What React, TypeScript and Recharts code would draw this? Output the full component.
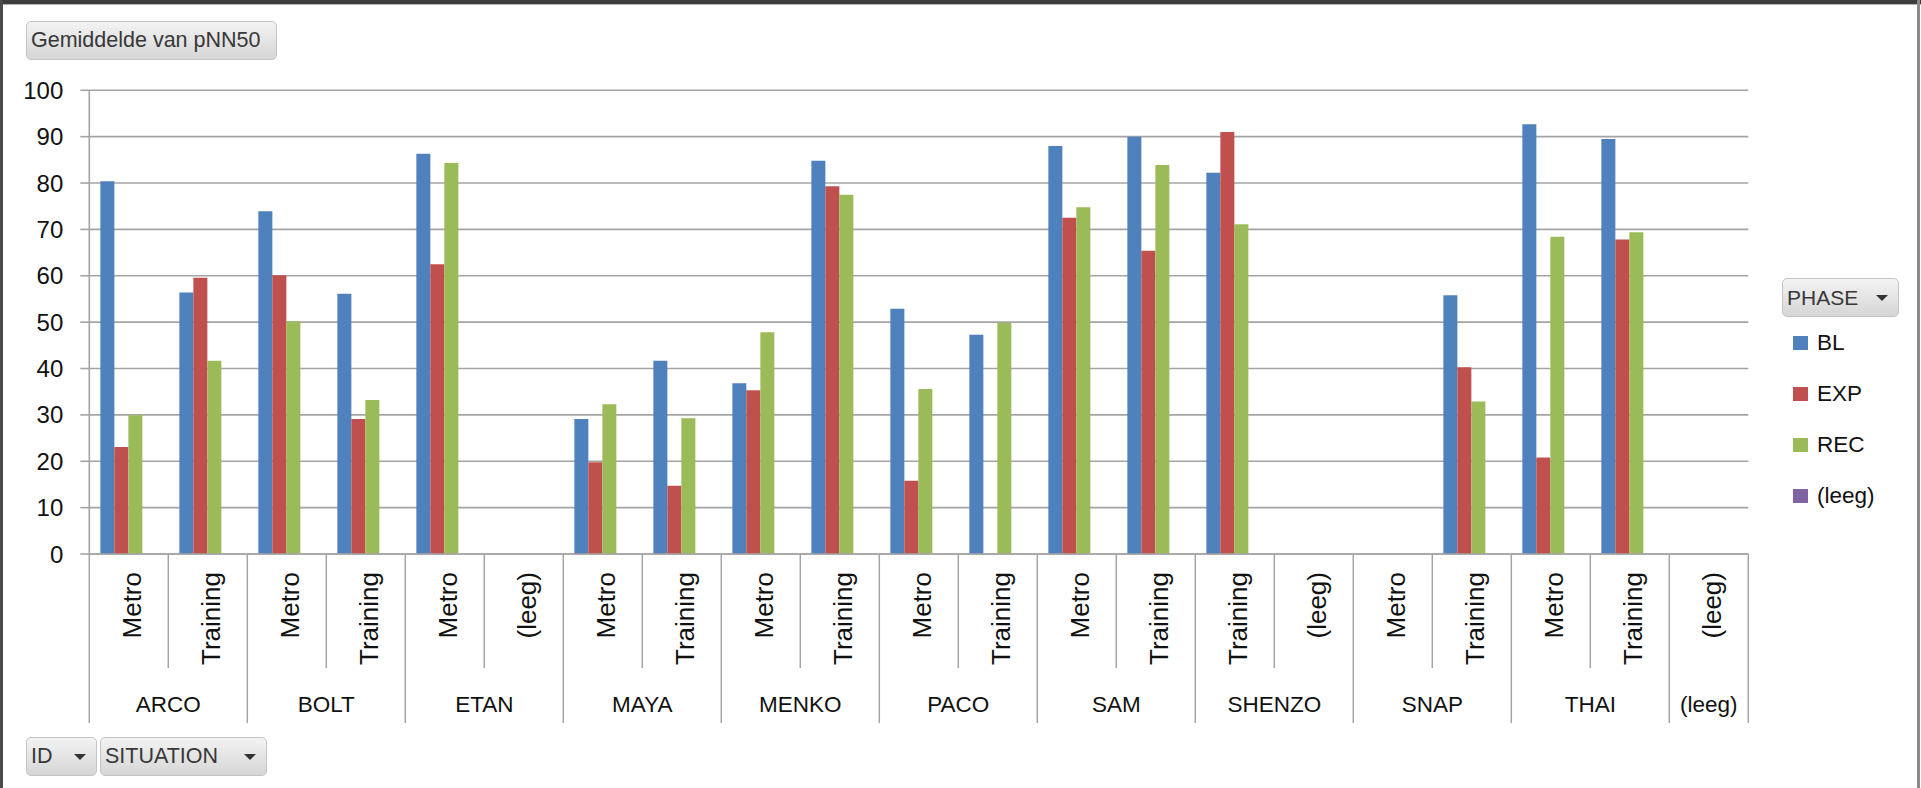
import { Bar, BarChart, CartesianGrid, XAxis, YAxis } from "recharts"

// pivot rows: ID / SITUATION, one value per PHASE
const ids = [
  "ARCO", "ARCO", "BOLT", "BOLT", "ETAN", "ETAN", "MAYA", "MAYA", "MENKO", "MENKO", "PACO",
  "PACO", "SAM", "SAM", "SHENZO", "SHENZO", "SNAP", "SNAP", "THAI", "THAI", "(leeg)",
]
const situations = [
  "Metro", "Training", "Metro", "Training", "Metro", "(leeg)", "Metro", "Training", "Metro", "Training", "Metro",
  "Training", "Metro", "Training", "Training", "(leeg)", "Metro", "Training", "Metro", "Training", "(leeg)",
]
const bl = [80.4, 56.4, 73.9, 56.1, 86.3, null, 29.1, 41.7, 36.8, 84.8, 52.9, 47.3, 88.0, 90.0, 82.2, null, null, 55.8, 92.7, 89.5, null]
const exp = [23.1, 59.6, 60.1, 29.1, 62.5, null, 19.8, 14.7, 35.3, 79.3, 15.8, null, 72.5, 65.4, 91.0, null, null, 40.3, 20.8, 67.8, null]
const rec = [29.9, 41.7, 50.2, 33.2, 84.3, null, 32.3, 29.3, 47.8, 77.5, 35.6, 49.8, 74.8, 83.9, 71.1, null, null, 32.9, 68.4, 69.4, null]
const leeg = ids.map(() => null)
const yTicks = [0, 10, 20, 30, 40, 50, 60, 70, 80, 90, 100]

const phases = [
  { key: "BL", color: "#4F81BD", values: bl },
  { key: "EXP", color: "#C0504D", values: exp },
  { key: "REC", color: "#9BBB59", values: rec },
  { key: "(leeg)", color: "#8064A2", values: leeg },
]

const rows = ids.map((id, i) => {
  const row: Record<string, string | number | null> = { cat: `${id}|${situations[i]}` }
  phases.forEach((p) => (row[p.key] = p.values[i]))
  return row
})

const W = 1921
const H = 788
const PLOT_LEFT = 89.3
const PLOT_RIGHT = 1748.3
const PLOT_TOP = 90.3
const PLOT_BOTTOM = 554
const FONT = '"Liberation Sans", Arial, sans-serif'
const GRID = "#a4a4a4"

function CategoryTick(props: any) {
  const { x, y, payload } = props
  const i: number = payload.index
  const band = (PLOT_RIGHT - PLOT_LEFT) / ids.length
  const x0 = x - band / 2
  const groupStart = i === 0 || ids[i] !== ids[i - 1]
  const last = i === ids.length - 1
  let groupSize = 0
  if (groupStart) {
    while (i + groupSize < ids.length && ids[i + groupSize] === ids[i]) groupSize++
  }
  const lx = x + 12
  const ly = y + 18
  return (
    <g>
      <line x1={x0} y1={y} x2={x0} y2={groupStart ? y + 169 : y + 114} stroke={GRID} strokeWidth={1.5} />
      {last && <line x1={x0 + band} y1={y} x2={x0 + band} y2={y + 169} stroke={GRID} strokeWidth={1.5} />}
      <text
        x={lx}
        y={ly}
        transform={`rotate(-90 ${lx} ${ly})`}
        textAnchor="end"
        fontSize={26}
        fontFamily={FONT}
        fill="#111"
      >
        {situations[i]}
      </text>
      {groupStart && (
        <text x={x0 + (groupSize * band) / 2} y={y + 158} textAnchor="middle" fontSize={22.5} fontFamily={FONT} fill="#111">
          {ids[i]}
        </text>
      )}
    </g>
  )
}

function DropButton({ label, left, top, width, height, fontSize, arrow = true }: any) {
  return (
    <div
      style={{
        position: "absolute",
        left,
        top,
        width,
        height,
        boxSizing: "border-box",
        border: "1px solid #c4c4c4",
        borderRadius: 5,
        background: "linear-gradient(#f3f3f3, #d6d6d6)",
        display: "flex",
        alignItems: "center",
        justifyContent: "space-between",
        padding: "0 10px 0 4px",
        fontFamily: FONT,
        fontSize,
        color: "#383838",
        whiteSpace: "nowrap",
      }}
    >
      <span>{label}</span>
      {arrow && (
        <span
          style={{
            width: 0,
            height: 0,
            borderLeft: "6px solid transparent",
            borderRight: "6px solid transparent",
            borderTop: "6px solid #333",
          }}
        />
      )}
    </div>
  )
}

export default function App() {
  return (
    <div style={{ position: "fixed", left: 0, top: 0, width: W, height: H, background: "#fff", overflow: "hidden" }}>
      <BarChart
        width={W}
        height={H}
        data={rows}
        margin={{ top: PLOT_TOP, right: W - PLOT_RIGHT, bottom: 0, left: 0 }}
        barCategoryGap="14%"
        barGap={0}
      >
        <CartesianGrid vertical={false} stroke={GRID} strokeWidth={1.6} />
        <YAxis
          width={PLOT_LEFT}
          domain={[0, 100]}
          ticks={yTicks}
          interval={0}
          tickSize={9}
          tickMargin={17}
          axisLine={{ stroke: GRID, strokeWidth: 1.6 }}
          tickLine={{ stroke: GRID, strokeWidth: 1.6 }}
          tick={{ fontSize: 24, fontFamily: FONT, fill: "#111" }}
        />
        <XAxis
          dataKey="cat"
          height={H - PLOT_BOTTOM}
          interval={0}
          tickSize={0}
          tickMargin={0}
          tickLine={false}
          axisLine={{ stroke: GRID, strokeWidth: 1.6 }}
          tick={<CategoryTick />}
        />
        {phases.map((p) => (
          <Bar key={p.key} dataKey={p.key} name={p.key} fill={p.color} isAnimationActive={false} />
        ))}
      </BarChart>

      <DropButton label="Gemiddelde van pNN50" left={26} top={21} width={251} height={39} fontSize={21.5} arrow={false} />
      <DropButton label="ID" left={26} top={737} width={71} height={39} fontSize={21.5} />
      <DropButton label="SITUATION" left={100} top={737} width={167} height={39} fontSize={21.5} />

      <div style={{ position: "absolute", left: 1782, top: 278 }}>
        <DropButton label="PHASE" left={0} top={0} width={117} height={39} fontSize={21} />
        {phases.map((p, i) => (
          <div
            key={p.key}
            style={{
              position: "absolute",
              left: 11,
              top: 50 + i * 51,
              height: 30,
              display: "flex",
              alignItems: "center",
              fontFamily: FONT,
              fontSize: 22.5,
              color: "#111",
              whiteSpace: "nowrap",
            }}
          >
            <span style={{ width: 15, height: 14, background: p.color, marginRight: 9 }} />
            {p.key}
          </div>
        ))}
      </div>

      {/* window frame */}
      <div style={{ position: "absolute", left: 0, top: 0, width: W, height: 4, background: "#3c3c3c" }} />
      <div style={{ position: "absolute", left: 0, top: 4, width: W, height: 1, background: "#b5b5b5" }} />
      <div style={{ position: "absolute", left: 0, top: 0, width: 3, height: H, background: "#4a4a4a" }} />
      <div style={{ position: "absolute", left: W - 4, top: 0, width: 3, height: H, background: "#8a8a8a" }} />
    </div>
  )
}
